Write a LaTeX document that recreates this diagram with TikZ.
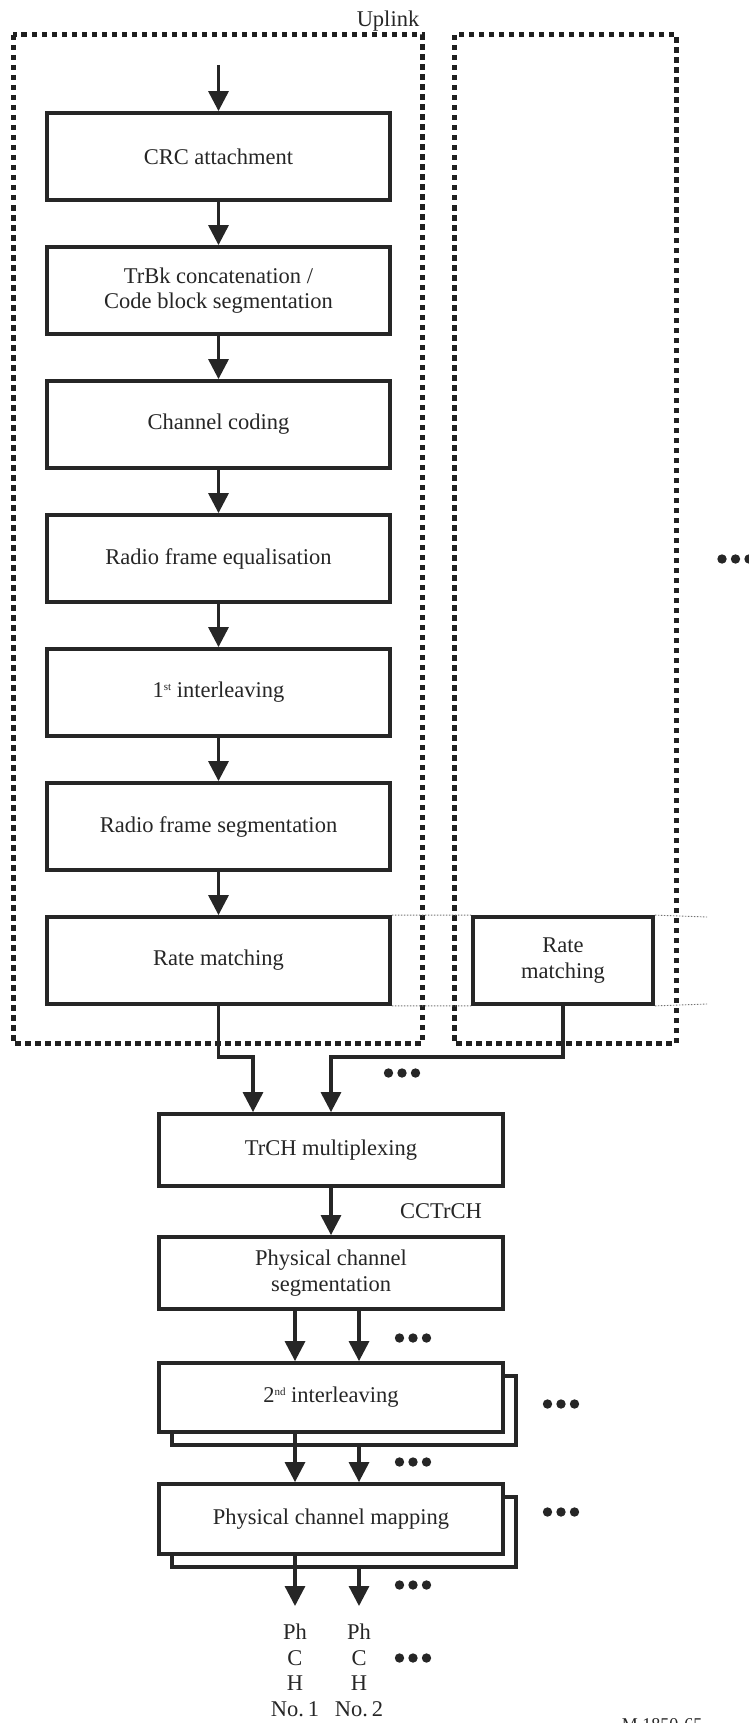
\documentclass[tikz,border=0pt]{standalone}
\usepackage{fontspec}
\setmainfont{Liberation Serif}
\usetikzlibrary{arrows.meta,calc}
\newcommand\mysup[1]{\raisebox{0.75ex}{\fontsize{11}{11}\selectfont #1}}
\begin{document}
\begin{tikzpicture}[x=1pt,y=-1pt,
  txt/.style={font=\fontsize{22.5}{25.5}\selectfont, text=black!85, align=center, inner sep=0pt},
  box/.style={txt, draw=black!85, line width=3.8pt, fill=white, minimum width=343pt, minimum height=87pt},
  wbox/.style={box, minimum width=344pt, minimum height=72pt},
  arr/.style={draw=black!85, line width=3.2pt, -{Triangle[length=20pt,width=20pt]}},
  dotbox/.style={draw=black!88, line width=5pt, dash pattern=on 5.5pt off 4.5pt},
  thinline/.style={draw=black!55, line width=0.9pt, dash pattern=on 1.5pt off 1.5pt},
  dots/.pic={\fill[black!85] (-13.5,0) circle (4.7pt) (0,0) circle (4.7pt) (13.5,0) circle (4.7pt);}
]
\useasboundingbox (0,0) rectangle (749,1723);
\clip (0,0) rectangle (749,1723);

% uplink frames
\node[txt, anchor=base] (uplink) at (388,27) {Uplink};
\draw[dotbox] (13,35) rectangle (422,1043);
\draw[dotbox] (454,35) rectangle (676,1043);

% chain of processing blocks
\coordinate (in) at (218.5,65);
\node[box] (crc) at (218.5,156.5) {CRC attachment};
\node[box] (trbk) at (218.5,290.5) {TrBk concatenation /\\Code block segmentation};
\node[box] (cc) at (218.5,424.5) {Channel coding};
\node[box] (rfe) at (218.5,558.5) {Radio frame equalisation};
\node[box] (il1) at (218.5,692.5) {1\mysup{st} interleaving};
\node[box] (rfs) at (218.5,826.5) {Radio frame segmentation};
\node[box] (rm1) at (218.5,960.5) {Rate matching};
\node[box, minimum width=180pt] (rm2) at (563,960.5) {Rate\\matching};

\draw[arr] (in) -- (crc.north);
\draw[arr] (crc.south) -- (trbk.north);
\draw[arr] (trbk.south) -- (cc.north);
\draw[arr] (cc.south) -- (rfe.north);
\draw[arr] (rfe.south) -- (il1.north);
\draw[arr] (il1.south) -- (rfs.north);
\draw[arr] (rfs.south) -- (rm1.north);

% thin dotted guides
\coordinate (te) at (707,917);
\coordinate (be) at (707,1004);
\draw[thinline] (rm1.north east) -- (rm2.north west) (rm2.north east) -- (te);
\draw[thinline] (rm1.south east) -- (rm2.south west) (rm2.south east) -- (be);

\pic at (735.5,559) {dots};

% multiplexing
\node[wbox] (trch) at (331,1150) {TrCH multiplexing};
\draw[arr] (rm1.south) -- ++(0,51) -| ($(trch.north)+(-78,0)$);
\draw[arr] (rm2.south) -- ++(0,51) -| (trch.north);
\pic at (402,1073) {dots};

\node[txt] (cctrch) at (441,1211) {CCTrCH};
\node[wbox] (pcs) at (331,1273) {Physical channel\\segmentation};
\draw[arr] (trch.south) -- (pcs.north);

\node[wbox, minimum height=69pt] (il2s) at (344,1410.5) {};
\node[wbox, minimum height=69pt] (il2) at (331,1397.5) {2\mysup{nd} interleaving};
\node[wbox, minimum height=70pt] (pcms) at (344,1532) {};
\node[wbox, minimum height=70pt] (pcm) at (331,1519) {Physical channel mapping};

\draw[arr] ($(pcs.south)+(-36,0)$) -- ($(il2.north)+(-36,0)$);
\draw[arr] ($(pcs.south)+(28,0)$) -- ($(il2.north)+(28,0)$);
\draw[arr] ($(il2.south)+(-36,0)$) -- ($(pcm.north)+(-36,0)$);
\draw[arr] ($(il2s.south)+(15,0)$) -- ($(pcm.north)+(28,0)$);

\coordinate (e1) at (295,1606);
\coordinate (e2) at (359,1606);
\draw[arr] (pcm.south -| e1) -- (e1);
\draw[arr] (pcms.south -| e2) -- (e2);

\node[txt, anchor=north] (ph1) at (295,1624) {Ph\\C\\H\\No.\,1};
\node[txt, anchor=north] (ph2) at (359,1624) {Ph\\C\\H\\No.\,2};

\pic at (413,1338) {dots};
\pic at (561,1404) {dots};
\pic at (413,1462) {dots};
\pic at (561,1512) {dots};
\pic at (413,1585) {dots};
\pic at (413,1658) {dots};

\node[txt, font=\fontsize{18}{20}\selectfont, anchor=north] (ref) at (662,1718) {M.1850-65};
\end{tikzpicture}
\end{document}
